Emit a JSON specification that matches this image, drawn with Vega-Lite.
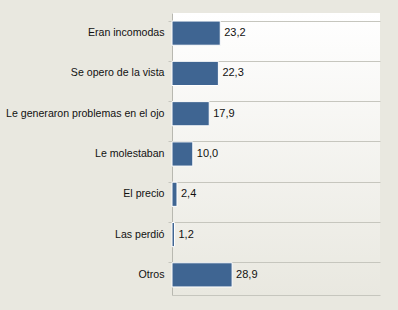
{
  "$schema": "https://vega.github.io/schema/vega-lite/v6.json",
  "autosize": "none",
  "width": 208,
  "height": 282,
  "padding": {"left": 172, "top": 13, "right": 18, "bottom": 15},
  "background": "#e9e8e0",
  "config": {
    "locale": {"number": {"decimal": ",", "thousands": ".", "grouping": [3], "currency": ["", " €"]}},
    "view": {
      "stroke": null,
      "fill": {"gradient": "linear", "x1": 0, "y1": 0, "x2": 0, "y2": 1,
        "stops": [{"offset": 0, "color": "#ffffff"}, {"offset": 1, "color": "#e9e8e0"}]}
    },
    "font": "Liberation Sans"
  },
  "data": {
    "values": [
      {"motivo": "Eran incomodas", "valor": 23.2},
      {"motivo": "Se opero de la vista", "valor": 22.3},
      {"motivo": "Le generaron problemas en el ojo", "valor": 17.9},
      {"motivo": "Le molestaban", "valor": 10.0},
      {"motivo": "El precio", "valor": 2.4},
      {"motivo": "Las perdió", "valor": 1.2},
      {"motivo": "Otros", "valor": 28.9}
    ]
  },
  "encoding": {
    "y": {
      "field": "motivo", "type": "nominal", "sort": null,
      "scale": {"paddingInner": 0.4, "paddingOuter": 0.2},
      "axis": {
        "title": null, "ticks": true, "tickSize": 4, "tickColor": "#c6c6be", "labelPadding": 4,
        "labelFontSize": 10.6, "labelColor": "#111111", "labelFont": "Liberation Sans",
        "domainColor": "#b8b8b0", "grid": true, "gridColor": "#c6c6be", "bandPosition": 0,
        "labelLimit": 200
      }
    },
    "x": {
      "field": "valor", "type": "quantitative",
      "scale": {"domain": [0, 100]},
      "axis": {"title": null, "labels": false, "ticks": false, "grid": false, "domainColor": "#c6c6be"}
    }
  },
  "layer": [
    {"mark": {"type": "bar", "color": "#3f6592", "stroke": "#ffffff", "strokeWidth": 1}},
    {"mark": {"type": "text", "align": "left", "dx": 4, "fontSize": 11, "color": "#111111"},
     "encoding": {"text": {"field": "valor", "type": "quantitative", "format": ".1f"}}}
  ]
}
